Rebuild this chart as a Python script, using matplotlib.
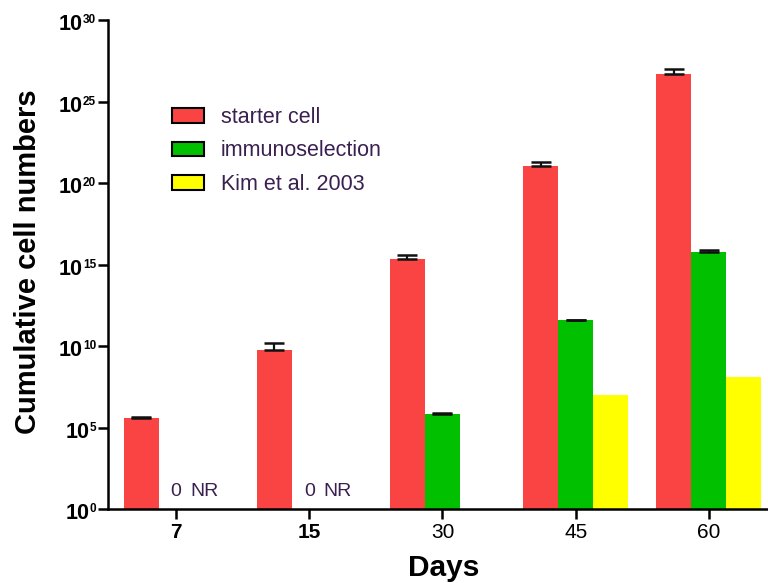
import matplotlib
matplotlib.use("Agg")
import matplotlib.pyplot as plt
import numpy as np
from matplotlib.offsetbox import AnnotationBbox, HPacker, TextArea

plt.rcParams['font.family'] = ['Liberation Sans', 'DejaVu Sans']

days = ["7", "15", "30", "45", "60"]
series = ["starter cell", "immunoselection", "Kim et al. 2003"]
colors = ["#FA4444", "#00C000", "#FFFF00"]
decades = [0, 5, 10, 15, 20, 25, 30]

# log10 of cumulative cell numbers (nan = not reached / not reported)
starter_log = [5.58, 9.75, 15.32, 21.06, 26.7]
immuno_log = [np.nan, np.nan, 5.81, 11.57, 15.79]
kim_log = [np.nan, np.nan, np.nan, 7.0, 8.08]
# log10 of mean + SD (upper error bar)
starter_err_log = [5.66, 10.2, 15.6, 21.27, 27.0]
immuno_err_log = [np.nan, np.nan, 5.89, 11.62, 15.88]

fig = plt.figure(figsize=(7.68, 5.83), dpi=100)
ax = fig.add_axes([108 / 768, 1 - 509 / 583, 1 - 108 / 768, (509 - 20) / 583])

x = np.arange(len(days))
w = 0.263
logs = [starter_log, immuno_log, kim_log]
errs = [starter_err_log, immuno_err_log, None]
for i, (lg, er, c) in enumerate(zip(logs, errs, colors)):
    lg = np.array(lg)
    ok = ~np.isnan(lg)
    h = 10 ** lg[ok]
    ax.bar(x[ok] + (i - 1) * w, h, w, bottom=1, color=c, edgecolor='none', zorder=2)
    if er is not None:
        top = 10 ** np.array(er)[ok]
        ax.errorbar(x[ok] + (i - 1) * w, h, yerr=[np.zeros_like(h), top - h],
                    fmt='none', ecolor='#111111', elinewidth=1.6, capsize=7,
                    capthick=1.8, zorder=3)

# days where immunoselection gave nothing and Kim et al. reported nothing
for d in [0, 1]:
    ax.text(x[d], 10 ** 1.05, "0", ha='center', va='center', fontsize=14,
            color='#3a2050')
    ax.text(x[d] + 0.215, 10 ** 1.05, "NR", ha='center', va='center', fontsize=14,
            color='#3a2050')

ax.set_yscale('log')
ax.set_ylim(1, 1e30)
ax.set_xlim(-0.511, 4.444)
ax.set_yticks([10.0 ** k for k in decades])
ax.set_yticks([], minor=True)
ax.set_yticklabels([])

# "10" with a small raised exponent next to each decade tick
for k in decades:
    box = HPacker(children=[
        TextArea("10", textprops=dict(fontsize=15.5, fontweight='bold')),
        TextArea(str(k), textprops=dict(fontsize=8.5, fontweight='bold'))],
        align='top', pad=0, sep=0)
    ab = AnnotationBbox(box, (0, 10.0 ** k), xycoords=('axes fraction', 'data'),
                        xybox=(-8.5, -0.5), boxcoords='offset points',
                        box_alignment=(1, 0.7), frameon=False, pad=0,
                        annotation_clip=False)
    ax.add_artist(ab)

ax.set_xticks(x)
ax.set_xticklabels(days)
for lab, bold in zip(ax.get_xticklabels(), [True, True, False, False, False]):
    lab.set_fontweight('bold' if bold else 'normal')
    lab.set_fontsize(15)

for s in ['top', 'right']:
    ax.spines[s].set_visible(False)
for s in ['left', 'bottom']:
    ax.spines[s].set_linewidth(1.8)
ax.tick_params(axis='both', which='major', length=7, width=1.8, direction='out',
               pad=3)

ax.set_ylabel("Cumulative cell numbers", fontsize=21, fontweight='bold')
ax.yaxis.set_label_coords(-(108 - 14) / 660, 0.506)
ax.yaxis.label.set_verticalalignment('top')
ax.set_xlabel("Days", fontsize=21.5, fontweight='bold')
ax.xaxis.label.set_horizontalalignment('left')
ax.xaxis.set_label_coords((408 - 108) / 660, -0.092)

handles = [plt.Rectangle((0, 0), 1, 1, facecolor=c, edgecolor='black', linewidth=1.5)
           for c in colors]
leg = fig.legend(handles, series, loc='upper left',
                 bbox_to_anchor=(172 / 768, 1 - 107 / 583),
                 frameon=False, fontsize=15.5, handlelength=1.5, handleheight=0.66,
                 handletextpad=0.78, labelspacing=0.58, borderpad=0,
                 borderaxespad=0)
for t in leg.get_texts():
    t.set_color('#3a2050')

fig.savefig("out.png", dpi=100)
